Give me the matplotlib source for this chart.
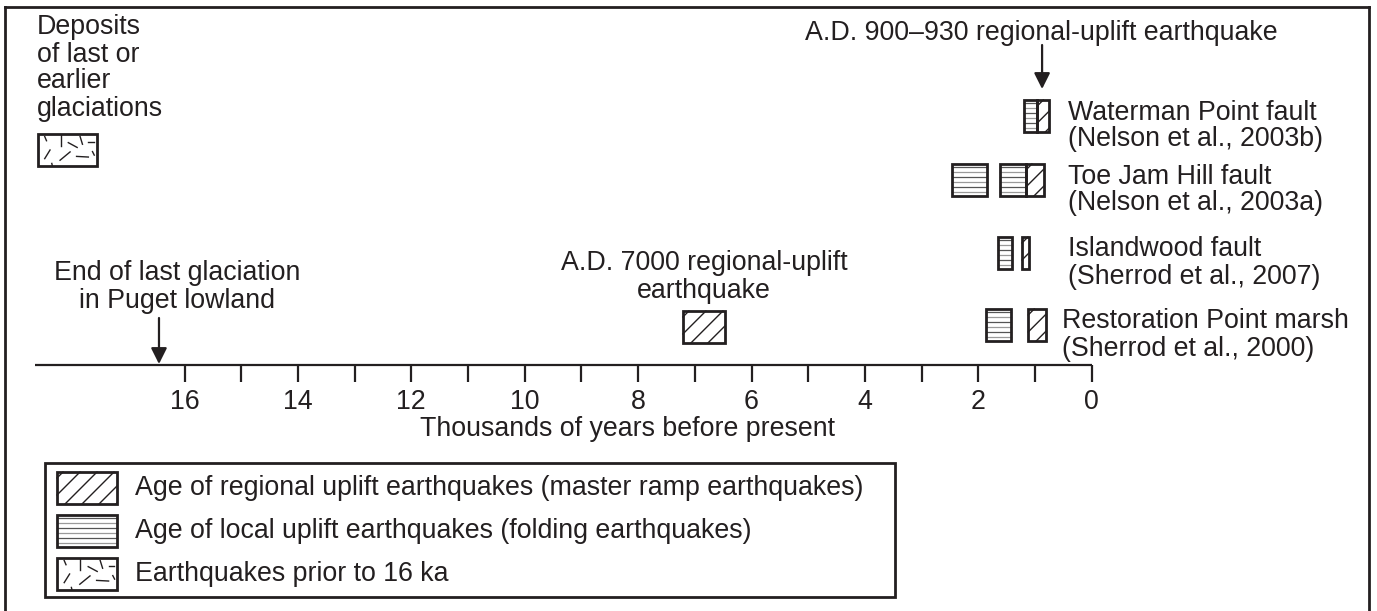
import numpy as np
import matplotlib.pyplot as plt
from matplotlib.patches import Rectangle, FancyArrowPatch
from matplotlib.lines import Line2D
from matplotlib.transforms import Affine2D, IdentityTransform

plt.rcParams['font.family'] = ['Liberation Sans', 'DejaVu Sans']

ink = '#231f20'
FS = 19.3

# age ranges in thousands of years before present (older, younger)
glacial_deposits = [(18.59, 17.55)]
regional_7000 = [(7.21, 6.47)]

sites = ['Waterman Point fault', 'Toe Jam Hill fault', 'Islandwood fault',
         'Restoration Point marsh']
refs = ['(Nelson et al., 2003b)', '(Nelson et al., 2003a)',
        '(Sherrod et al., 2007)', '(Sherrod et al., 2000)']
local_events = [[(1.19, 0.96)],
                [(2.47, 1.85), (1.62, 1.16)],
                [(1.65, 1.41)],
                [(1.87, 1.43)]]
regional_events = [[(0.96, 0.75)],
                   [(1.16, 0.84)],
                   [(1.23, 1.10)],
                   [(1.12, 0.81)]]

end_glaciation = 16.45
ad900_event = 0.875
axis_start = 18.63
ticks = list(range(0, 17))
tick_labels = [str(t) if t % 2 == 0 else '' for t in ticks]

legend_labels = ['Age of regional uplift earthquakes (master ramp earthquakes)',
                 'Age of local uplift earthquakes (folding earthquakes)',
                 'Earthquakes prior to 16 ka']

# short scratch marks used for the glacial pattern (fractions of the box)
scratches = [((0.12, 0.92), (0.15, 0.79)), ((0.39, 0.97), (0.39, 0.62)),
             ((0.52, 0.73), (0.67, 0.58)), ((0.72, 0.92), (0.76, 0.68)),
             ((0.86, 0.76), (0.95, 0.76)), ((0.93, 0.45), (0.96, 0.34)),
             ((0.12, 0.23), (0.21, 0.50)), ((0.38, 0.18), (0.55, 0.44)),
             ((0.66, 0.30), (0.86, 0.28)), ((0.24, 0.08), (0.25, 0.0))]

W, H = 1377, 611
fig = plt.figure(figsize=(W / 100, H / 100), dpi=100)
ax = fig.add_axes([0, 0, 1, 1])
x0_px, px_per_ka = 1091.7, 56.7
ax.set_xlim(x0_px / px_per_ka, -(W - x0_px) / px_per_ka)
ax.set_ylim(H, 0)
ax.axis('off')

# pixel layout transform (y down) for the key box
pix = Affine2D().scale(1 / W, -1 / H).translate(0, 1) + fig.transFigure
disp = IdentityTransform()


def hatched(x, y, w, h, kind, trans):
    rect = Rectangle((x, y), w, h, facecolor='white', edgecolor='none', transform=trans)
    ax.add_patch(rect)
    bb = rect.get_extents()
    x0, y0, bw, bh = bb.x0, bb.y0, bb.width, bb.height
    if kind == 'regional':
        # 45 degree strokes, cut to the box
        for c in np.arange(-bh + 6, bw, 17):
            t0, t1 = max(0, -c), min(bh, bw - c)
            if t1 > t0:
                ax.add_line(Line2D([x0 + c + t0, x0 + c + t1], [y0 + t0, y0 + t1],
                                   color=ink, lw=1.0, transform=disp))
    elif kind == 'local':
        for k, yy in enumerate(np.arange(y0 + 4, y0 + bh - 2, 5)):
            ax.add_line(Line2D([x0, x0 + bw], [yy, yy], lw=0.9, transform=disp,
                               color='#555555' if k % 2 else '#9a9a9a'))
    else:
        for (u0, v0), (u1, v1) in scratches:
            ax.add_line(Line2D([x0 + u0 * bw, x0 + u1 * bw],
                               [y0 + v0 * bh, y0 + v1 * bh],
                               color=ink, lw=1.0, transform=disp))
    ax.add_patch(Rectangle((x, y), w, h, fill=False, edgecolor=ink, lw=2.0,
                           transform=trans, zorder=3))


def age_box(rng, yc, kind, h=32):
    old, young = rng
    hatched(old, yc - h / 2, young - old, h, kind, ax.transData)


# timeline
ax.plot([axis_start, 0], [365, 365], color=ink, lw=1.6, solid_capstyle='butt')
for t, lab in zip(ticks, tick_labels):
    ax.plot([t, t], [365, 382], color=ink, lw=1.6, solid_capstyle='butt')
    if lab:
        ax.text(t, 402, lab, ha='center', va='center', fontsize=FS, color=ink)
ax.text(8.18, 429, 'Thousands of years before present', ha='center', va='center',
        fontsize=FS, color=ink)

# site rows
row_y = [116, 180, 253, 325]
label_x = [0.42, 0.42, 0.42, 0.52]
for yc, loc, reg, name, ref, lx in zip(row_y, local_events, regional_events,
                                       sites, refs, label_x):
    for r in loc:
        age_box(r, yc, 'local')
    for r in reg:
        age_box(r, yc, 'regional')
    ax.text(lx, yc + 10, name + '\n' + ref, ha='left', va='center', fontsize=FS,
            color=ink, linespacing=1.05)

# regional uplift about 7000 years ago
for r in regional_7000:
    age_box(r, 327, 'regional')
ax.text(sum(regional_7000[0]) / 2, 277, 'A.D. 7000 regional-uplift\nearthquake',
        ha='center', va='center', fontsize=FS, color=ink, linespacing=1.05)

# glacial deposits
for r in glacial_deposits:
    age_box(r, 150, 'glacial')
ax.text(18.6, 68, 'Deposits\nof last or\nearlier\nglaciations', ha='left',
        va='center', fontsize=FS, color=ink, linespacing=1.05)

# arrows
ax.add_patch(FancyArrowPatch((end_glaciation, 318), (end_glaciation, 364),
                             arrowstyle='-|>', mutation_scale=24, color=ink, lw=1.6,
                             shrinkA=0, shrinkB=0))
ax.text(16.13, 287, 'End of last glaciation\nin Puget lowland', ha='center',
        va='center', fontsize=FS, color=ink, linespacing=1.05)

ax.add_patch(FancyArrowPatch((ad900_event, 45), (ad900_event, 89),
                             arrowstyle='-|>', mutation_scale=24, color=ink, lw=1.6,
                             shrinkA=0, shrinkB=0))
ax.text(5.05, 33, 'A.D. 900\u2013930 regional-uplift earthquake', ha='left',
        va='center', fontsize=FS, color=ink)

# key
ax.add_patch(Rectangle((45, 463), 850, 134, fill=False, edgecolor=ink, lw=2.0,
                       transform=pix))
for i, (kind, lab) in enumerate(zip(['regional', 'local', 'glacial'], legend_labels)):
    ytop = 472 + i * 43
    hatched(57, ytop, 60, 32, kind, pix)
    ax.text(135, ytop + 16, lab, ha='left', va='center', fontsize=FS, color=ink,
            transform=pix)

# outer frame
for xs, ys in [([5, 5], [611, 7]), ([5, 1369], [7, 7]), ([1369, 1369], [7, 611])]:
    ax.add_line(Line2D(xs, ys, color=ink, lw=2.0, transform=pix))

fig.savefig('out.png', dpi=100)
